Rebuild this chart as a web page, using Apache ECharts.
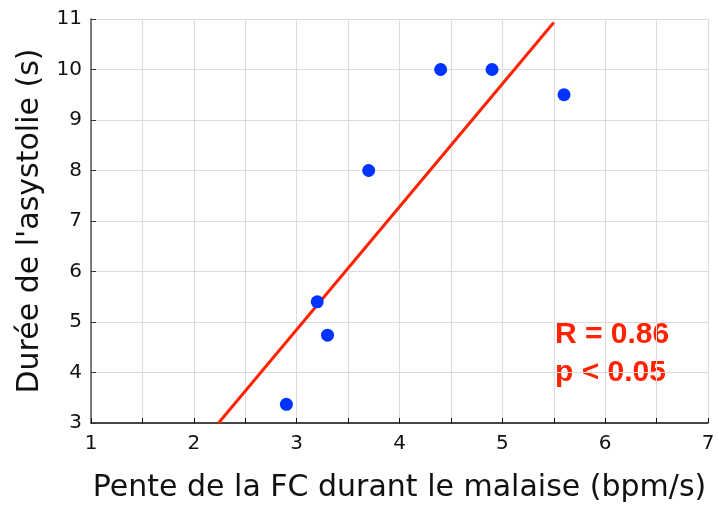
<!DOCTYPE html>
<html>
<head>
<meta charset="utf-8">
<script src="https://cdn.jsdelivr.net/npm/echarts@6/dist/echarts.min.js"></script>
<style>
  html, body { margin: 0; padding: 0; background: #fff; }
  #chart { width: 718px; height: 505px; }
</style>
</head>
<body>
<div id="chart"></div>
<script>
// données
const pente = [2.9, 3.2, 3.3, 3.7, 4.4, 4.9, 5.6]
const duree = [3.37, 5.4, 4.74, 8.0, 10.0, 10.0, 9.5]
// droite de régression (extrémités)
const regX = [2.24, 5.5]
const regY = [3.0, 10.93]
const statLines = ['R = 0.86', 'p < 0.05']

const points = pente.map((x, i) => [x, duree[i]])
const reg = regX.map((x, i) => [x, regY[i]])

const chart = echarts.init(document.getElementById('chart'))
chart.setOption({
    animation: false,
    textStyle: { fontFamily: 'DejaVu Sans' },
    grid: { left: 91, right: 10, top: 19, bottom: 82, outerBoundsMode: 'none' },
    xAxis: {
        type: 'value',
        min: 1,
        max: 7,
        interval: 1,
        name: 'Pente de la FC durant le malaise (bpm/s)',
        nameLocation: 'middle',
        nameGap: 50,
        nameTextStyle: { fontSize: 30, color: '#111' },
        axisLine: { lineStyle: { color: '#111', width: 1.5 } },
        axisTick: { inside: true, length: 5, lineStyle: { color: '#111' } },
        minorTick: { show: true, splitNumber: 2, length: 5, lineStyle: { color: '#111' } },
        axisLabel: { fontSize: 20, color: '#111', margin: 11 },
        splitLine: { lineStyle: { color: '#dcdcdc', width: 1 } },
        minorSplitLine: { show: true, lineStyle: { color: '#dcdcdc', width: 1 } }
    },
    yAxis: {
        type: 'value',
        min: 3,
        max: 11,
        interval: 1,
        name: "Durée de l'asystolie (s)",
        nameLocation: 'middle',
        nameGap: 46,
        nameTextStyle: { fontSize: 30, color: '#111' },
        axisLine: { show: true, lineStyle: { color: '#555', width: 1.5 } },
        axisTick: { show: true, inside: true, length: 5, lineStyle: { color: '#333' } },
        axisLabel: { fontSize: 20, color: '#111', margin: 9 },
        splitLine: { lineStyle: { color: '#dcdcdc', width: 1 } }
    },
    series: [{
        type: 'line',
        data: reg,
        showSymbol: false,
        lineStyle: { color: '#ff2200', width: 3 },
        z: 2
    }, {
        type: 'scatter',
        data: points,
        symbolSize: 13,
        itemStyle: { color: '#0033ff', opacity: 1 },
        z: 3
    }],
    graphic: [{
        type: 'text',
        left: 555,
        top: 316,
        style: {
            text: statLines.join('\n'),
            fill: '#ff2200',
            font: 'bold 30px "Liberation Sans", Arial, sans-serif',
            lineHeight: 38
        }
    }]
})
</script>
</body>
</html>
